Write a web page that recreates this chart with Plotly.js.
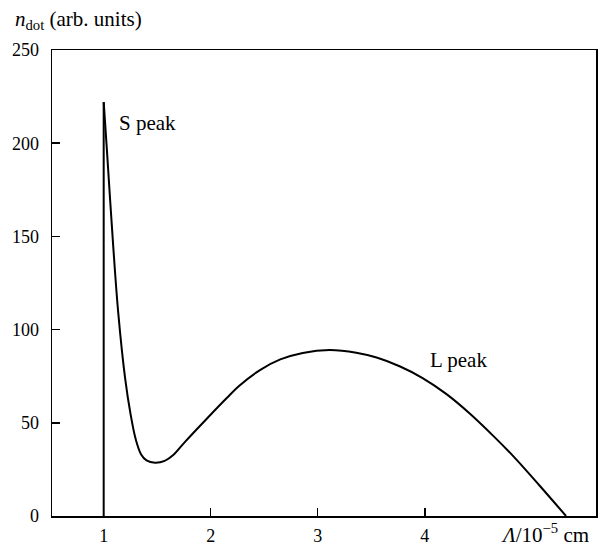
<!DOCTYPE html>
<html>
<head>
<meta charset="utf-8">
<script src="https://cdn.plot.ly/plotly-3.0.1.min.js"></script>
<style>html,body{margin:0;padding:0;background:#fff;}#chart{width:601px;height:546px;}</style>
</head>
<body>
<div id="chart"></div>
<script>
// rising edge of the S peak (Λ in 10^-5 cm, n_dot in arb. units)
const edgeLambda = [1.0, 1.0];
const edgeNdot = [0, 222];
// rest of the distribution
const lambdaVals = [1.0, 1.028, 1.09, 1.136, 1.20, 1.25, 1.30, 1.35, 1.40, 1.48, 1.57, 1.65, 1.76, 1.95, 2.15, 2.27, 2.46, 2.65, 2.86, 3.11, 3.36, 3.55, 3.77, 3.98, 4.20, 4.42, 4.64, 4.82, 5.07, 5.32];
const ndotVals = [222, 198, 144, 109, 74, 55, 41, 33, 29.8, 28.6, 29.6, 32.7, 39.8, 51.4, 63.3, 70.0, 78.3, 84.0, 87.5, 89.0, 87.6, 85.0, 80.2, 74.0, 65.5, 55.0, 43.0, 32.5, 16.5, 0];
const xTickVals = [1, 2, 3, 4];
const yTickVals = [0, 50, 100, 150, 200, 250];

const tickFont = {family: 'Liberation Serif, Times New Roman, serif', size: 18, color: '#000'};
const textFont = {family: 'Liberation Serif, Times New Roman, serif', size: 21, color: '#000'};

const edge = {
  x: edgeLambda, y: edgeNdot, type: 'scatter', mode: 'lines',
  line: {color: '#000', width: 2}, hoverinfo: 'skip'
};
const curve = {
  x: lambdaVals, y: ndotVals, type: 'scatter', mode: 'lines',
  line: {color: '#000', width: 2, shape: 'spline', smoothing: 1}, hoverinfo: 'skip'
};

const layout = {
  width: 601, height: 546,
  margin: {l: 52, r: 5, t: 50, b: 30},
  paper_bgcolor: '#fff', plot_bgcolor: '#fff',
  font: tickFont,
  showlegend: false,
  xaxis: {
    range: [0.517, 5.6], tickvals: xTickVals, ticktext: xTickVals.map(String),
    ticks: 'inside', ticklen: 8, tickwidth: 1.5, tickcolor: '#000',
    showline: true, linecolor: '#000', linewidth: 1.5, mirror: true,
    showgrid: false, zeroline: false, tickfont: tickFont, ticklabelstandoff: 3
  },
  yaxis: {
    range: [0, 250], tickvals: yTickVals, ticktext: yTickVals.map(String),
    ticks: 'inside', ticklen: 8, tickwidth: 1.5, tickcolor: '#000',
    showline: true, linecolor: '#000', linewidth: 1.5, mirror: true,
    showgrid: false, zeroline: false, tickfont: tickFont, ticklabelstandoff: 8
  },
  annotations: [
    {xref: 'paper', yref: 'paper', x: -0.072, y: 1.064, xanchor: 'left', yanchor: 'middle',
     text: '<i>n</i><sub>dot</sub> (arb. units)', showarrow: false, font: textFont},
    {xref: 'x', yref: 'y', x: 1.125, y: 211, xanchor: 'left', yanchor: 'middle',
     text: 'S peak', showarrow: false, font: textFont},
    {xref: 'x', yref: 'y', x: 4.03, y: 83.6, xanchor: 'left', yanchor: 'middle',
     text: 'L peak', showarrow: false, font: textFont},
    {xref: 'x', yref: 'paper', x: 4.69, y: -0.0365, xanchor: 'left', yanchor: 'middle',
     text: '<i>Λ</i>/10<sup>−5</sup> cm', showarrow: false, font: textFont}
  ]
};

Plotly.newPlot('chart', [edge, curve], layout, {staticPlot: true, displayModeBar: false});
</script>
</body>
</html>
